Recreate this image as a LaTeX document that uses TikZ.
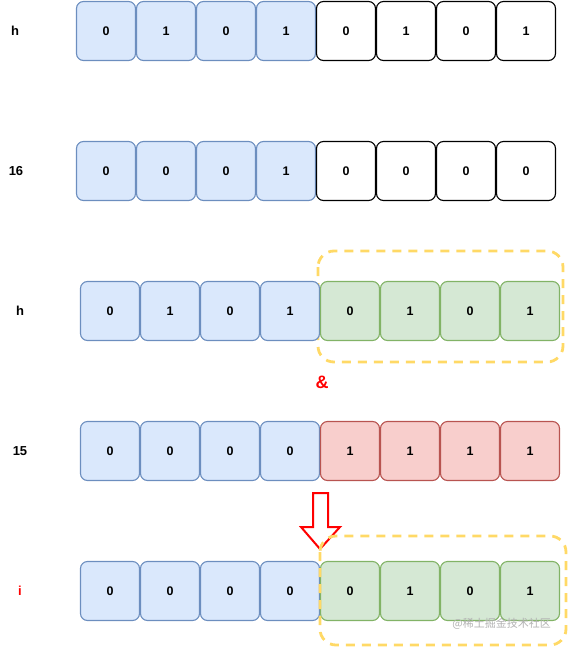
\documentclass[tikz,border=0pt]{standalone}
\usepackage{fontspec}
\setmainfont{Liberation Sans}
\newfontfamily\cjk{Noto Sans CJK SC}
\begin{document}
\begin{tikzpicture}[x=1pt,y=-1pt,
  cell/.style={draw, rounded corners=7pt, minimum width=59pt, minimum height=59pt, line width=1.1pt, font=\bfseries\fontsize{12.5}{14}\selectfont, inner sep=0pt},
  bluecell/.style={cell, fill=bfill, draw=bline},
  greencell/.style={cell, fill=gfill, draw=gline},
  redcell/.style={cell, fill=rfill, draw=rline},
  whitecell/.style={cell, fill=white, draw=black},
  lab/.style={font=\bfseries\fontsize{13}{15}\selectfont, inner sep=0pt},
  dashbox/.style={draw=yline, dashed, dash pattern=on 9pt off 7pt, line width=2.8pt, rounded corners=16pt}
]
\definecolor{bfill}{HTML}{DAE8FC}\definecolor{bline}{HTML}{6C8EBF}
\definecolor{gfill}{HTML}{D5E8D4}\definecolor{gline}{HTML}{82B366}
\definecolor{rfill}{HTML}{F8CECC}\definecolor{rline}{HTML}{B85450}
\definecolor{yline}{HTML}{FFD966}
\useasboundingbox (0,0) rectangle (568,648);
% row 1
\node[lab] (l1) at (15,31) {h};
\foreach \v [count=\i] in {0,1,0,1} \node[bluecell] (a\i) at ({76+30+60*(\i-1)},31) {\v};
\foreach \v [count=\i from 5] in {0,1,0,1} \node[whitecell] (a\i) at ({76+30+60*(\i-1)},31) {\v};
% row 2
\node[lab] (l2) at (16,171) {16};
\foreach \v [count=\i] in {0,0,0,1} \node[bluecell] (b\i) at ({76+30+60*(\i-1)},171) {\v};
\foreach \v [count=\i from 5] in {0,0,0,0} \node[whitecell] (b\i) at ({76+30+60*(\i-1)},171) {\v};
% row 3 (dashed box behind the cells)
\draw[dashbox] (318,251) rectangle (563,362);
\node[lab] (l3) at (20,311) {h};
\foreach \v [count=\i] in {0,1,0,1} \node[bluecell] (c\i) at ({80+30+60*(\i-1)},311) {\v};
\foreach \v [count=\i from 5] in {0,1,0,1} \node[greencell] (c\i) at ({80+30+60*(\i-1)},311) {\v};
\node[font=\bfseries\fontsize{18}{20}\selectfont, text=red, inner sep=0pt] (amp) at (322,382) {\&};
% row 4
\node[lab] (l4) at (20,451) {15};
\foreach \v [count=\i] in {0,0,0,0} \node[bluecell] (d\i) at ({80+30+60*(\i-1)},451) {\v};
\foreach \v [count=\i from 5] in {1,1,1,1} \node[redcell] (d\i) at ({80+30+60*(\i-1)},451) {\v};
% arrow
\draw[draw=red, fill=white, line width=2pt, line join=miter] (313,493) -- (328,493) -- (328,527) -- (340,527) -- (320,549) -- (301,527) -- (313,527) -- cycle;
% row 5
\node[lab, text=red] (l5) at (20,591) {i};
\foreach \v [count=\i] in {0,0,0,0} \node[bluecell] (e\i) at ({80+30+60*(\i-1)},591) {\v};
\foreach \v [count=\i from 5] in {0,1,0,1} \node[greencell] (e\i) at ({80+30+60*(\i-1)},591) {\v};
\draw[dashbox] (320,536) rectangle (566,645);
\node[font=\cjk\fontsize{11}{12}\selectfont, text=black!30, inner sep=0pt, anchor=east] (wm) at (551,624) {@稀土掘金技术社区};
\end{tikzpicture}
\end{document}
